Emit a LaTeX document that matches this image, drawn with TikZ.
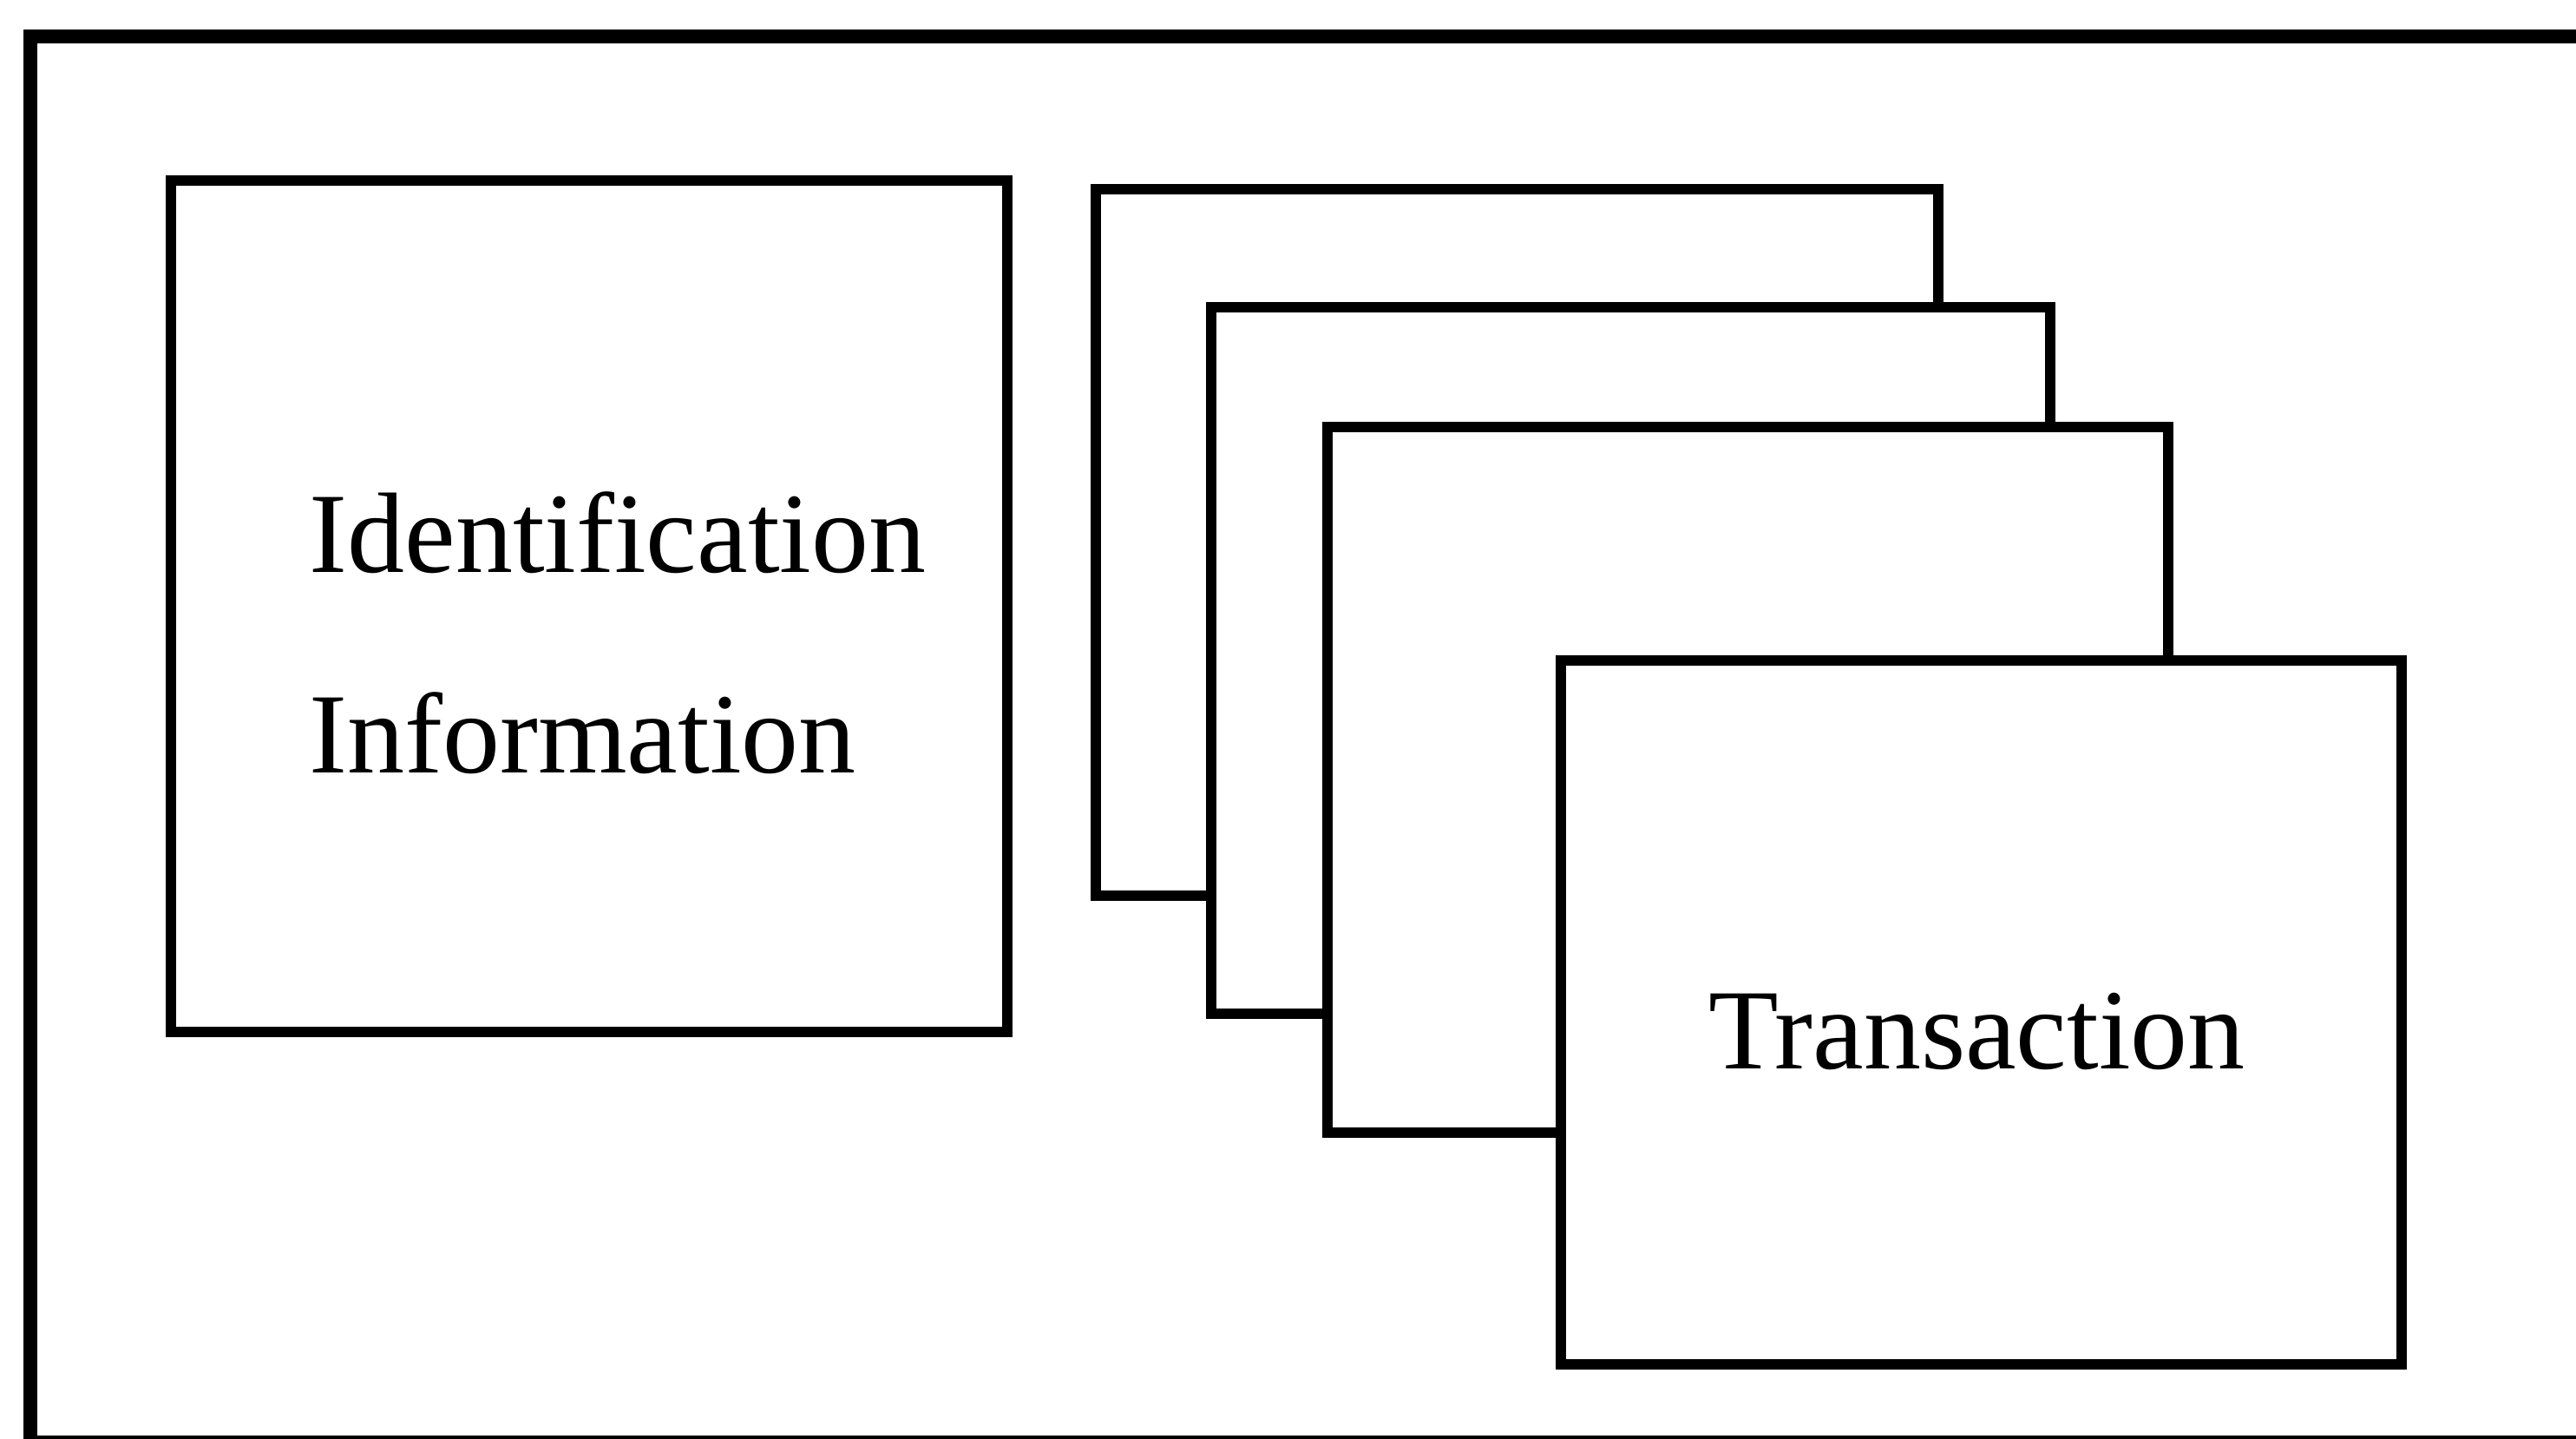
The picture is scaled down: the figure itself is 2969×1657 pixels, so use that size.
\documentclass[tikz,border=0pt]{standalone}
\usepackage{fontspec}
\setmainfont{Liberation Serif}
\begin{document}
\begin{tikzpicture}[x=0.01cm,y=-0.01cm,
  frame/.style={draw=black,line width=4.3pt},
  card/.style={draw=black,fill=white,line width=3.6pt},
  lbl/.style={font=\fontsize{37.5pt}{45pt}\selectfont,inner sep=0pt,anchor=base west}]
\useasboundingbox (0,0) rectangle (2969,1657);
\clip (0,0) rectangle (2969,1657);
\fill[white] (0,0) rectangle (2969,1657);
\draw[frame] (35,42) rectangle (3000,1662);
% identification box
\draw[card] (197,208) rectangle (1161,1189);
\node[coordinate] (idbox) at (679,698) {};
\node[lbl] (ident) at (356,659) {Identification};
\node[lbl] (info) at (356,890) {Information};
% stacked cards
\draw[card] (1263,218) rectangle (2234,1032);
\draw[card] (1396,354) rectangle (2363,1168);
\draw[card] (1530,492) rectangle (2499,1305);
\draw[card] (1799,761) rectangle (2768,1572);
\node[lbl] (trans) at (1969,1231) {Transaction};
\end{tikzpicture}
\end{document}
